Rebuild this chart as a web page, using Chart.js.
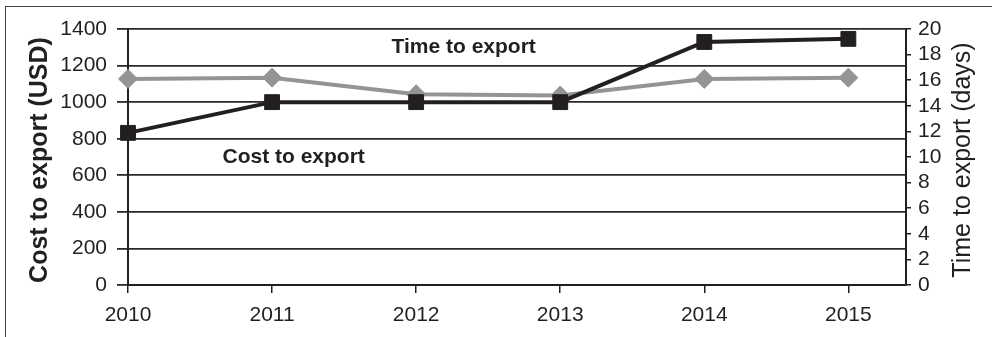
<!DOCTYPE html>
<html lang="en">
<head>
  <meta charset="UTF-8">
  <title>Cost and time to export</title>
  <style>
    html, body { margin: 0; padding: 0; background: #fff; overflow: hidden; }
    #wrap { position: relative; width: 992px; height: 337px; }
    #frame {
      position: absolute; left: 5px; top: 6px; width: 1000px; height: 400px;
      border-top: 1.5px solid #444; border-left: 1.5px solid #444;
    }
    #chart { position: absolute; left: 0; top: 0; }
  </style>
</head>
<body>
  <div id="wrap">
    <div id="frame"></div>
    <canvas id="chart" width="992" height="337"></canvas>
  </div>

  <script src="https://cdn.jsdelivr.net/npm/chart.js"></script>
  <script>
    const years = [2010, 2011, 2012, 2013, 2014, 2015];
    const costUsd = [832, 1000, 1000, 1000, 1329, 1346];
    const timeDays = [16.1, 16.2, 14.9, 14.8, 16.1, 16.2];

    const ink = '#231f20';
    const grey = '#949494';
    const family = '"Liberation Sans", Arial, sans-serif';

    // axis titles and the two series captions, drawn onto the canvas
    const captions = {
      id: 'captions',
      afterDraw(chart) {
        const ctx = chart.ctx;
        const x = chart.scales.x, y = chart.scales.y;
        ctx.save();
        ctx.fillStyle = ink;
        ctx.textAlign = 'center';
        ctx.textBaseline = 'middle';

        ctx.font = 'bold 21px ' + family;
        ctx.fillText('Time to export', x.getPixelForValue(2012.33), y.getPixelForValue(1300));
        ctx.fillText('Cost to export', x.getPixelForValue(2011.15), y.getPixelForValue(700));

        ctx.save();
        ctx.translate(40, 160);
        ctx.rotate(-Math.PI / 2);
        ctx.font = 'bold 25px ' + family;
        ctx.fillText('Cost to export (USD)', 0, 0);
        ctx.restore();

        ctx.save();
        ctx.translate(963, 160);
        ctx.rotate(-Math.PI / 2);
        ctx.font = '25px ' + family;
        ctx.fillText('Time to export (days)', 0, 0);
        ctx.restore();

        ctx.restore();
      }
    };

    new Chart(document.getElementById('chart'), {
      type: 'line',
      data: {
        datasets: [{
          label: 'Cost to export',
          data: years.map((yr, i) => ({ x: yr, y: costUsd[i] })),
          yAxisID: 'y',
          borderColor: ink,
          backgroundColor: ink,
          borderWidth: 4,
          pointStyle: 'rect',
          pointRadius: 10.5,
          pointBorderWidth: 1,
          clip: false,
          tension: 0
        }, {
          label: 'Time to export',
          data: years.map((yr, i) => ({ x: yr, y: timeDays[i] })),
          yAxisID: 'y1',
          borderColor: grey,
          backgroundColor: grey,
          borderWidth: 4,
          pointStyle: 'rectRot',
          pointRadius: 9.5,
          pointBorderWidth: 1,
          clip: false,
          tension: 0
        }]
      },
      options: {
        responsive: false,
        animation: false,
        layout: { padding: { top: 29, left: 0, right: 0, bottom: 0 } },
        plugins: { legend: { display: false }, tooltip: { enabled: false } },
        scales: {
          x: {
            type: 'linear',
            min: 2010,
            max: 2015.4,
            afterBuildTicks: s => { s.ticks = years.map(v => ({ value: v })); },
            afterFit: s => { s.height = 52; },
            grid: { drawOnChartArea: false, tickLength: 8, color: ink, lineWidth: 1.5 },
            border: { color: ink, width: 2 },
            ticks: {
              color: ink, padding: 10, autoSkip: false,
              font: { family: family, size: 21 },
              callback: v => String(v)
            }
          },
          y: {
            position: 'left',
            min: 0,
            max: 1400,
            afterFit: s => { s.width = 128; },
            grid: { color: '#2a2a2a', lineWidth: 1.8, tickLength: 11 },
            border: { color: ink, width: 2 },
            ticks: {
              stepSize: 200, color: ink, padding: 10, autoSkip: false,
              font: { family: family, size: 21 },
              callback: v => String(v)
            }
          },
          y1: {
            position: 'right',
            min: 0,
            max: 20,
            afterFit: s => { s.width = 86; },
            grid: { drawOnChartArea: false, tickLength: 5, color: ink, lineWidth: 1.5 },
            border: { color: ink, width: 2 },
            ticks: {
              stepSize: 2, color: ink, padding: 7, autoSkip: false,
              font: { family: family, size: 21 },
              callback: v => String(v)
            }
          }
        }
      },
      plugins: [captions]
    });
  </script>
</body>
</html>
